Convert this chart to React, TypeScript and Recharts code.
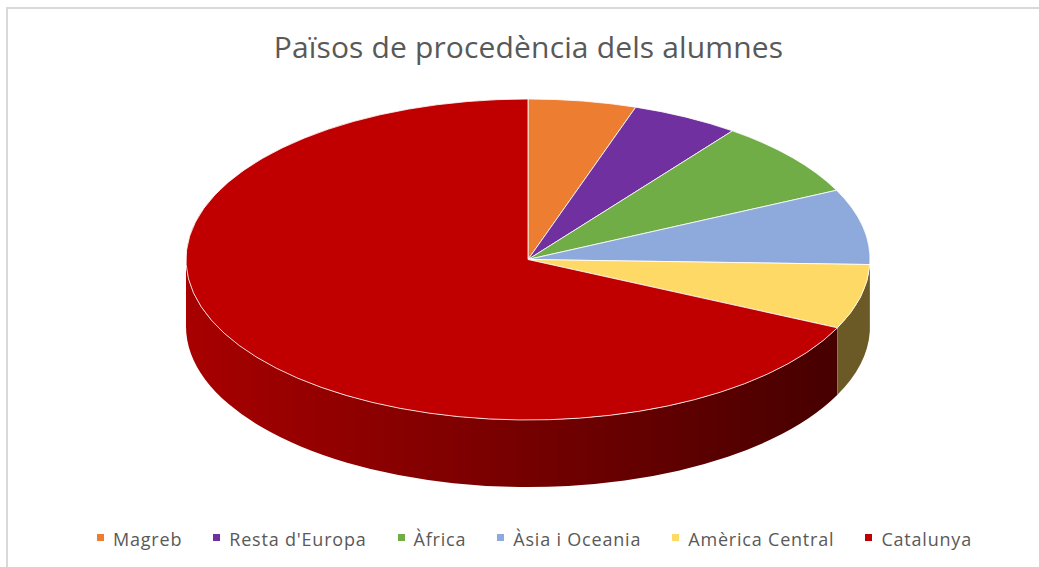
import React from 'react';
import { PieChart, Pie, Cell, Legend } from 'recharts';

const regions = ['Magreb', "Resta d'Europa", 'Àfrica', 'Àsia i Oceania', 'Amèrica Central', 'Catalunya'];
const shares = [5.1, 5.1, 7.7, 7.6, 6.5, 68.0];
const topColors = ['#ed7d31', '#7030a0', '#70ad47', '#8ea9db', '#ffd966', '#c00000'];
const wallColors = ['#8a4a1d', '#42205e', '#42662a', '#6b5a26', '#6b5a26', 'url(#wallRed)'];

const data = regions.map((name, i) => ({ name, value: shares[i] }));

const RX = 342;
const RY = 160.5;
const DEPTH = 67;

// Recharts only knows circles, so the sector angles get projected on an ellipse here
const px = (cx: number, a: number) => cx + RX * Math.cos((a * Math.PI) / 180);
const py = (cy: number, a: number) => cy - RY * Math.sin((a * Math.PI) / 180);

const TopSlice = (props: any) => {
  const { cx, cy, startAngle, endAngle, fill } = props;
  const large = Math.abs(startAngle - endAngle) > 180 ? 1 : 0;
  const d = `M${cx},${cy} L${px(cx, startAngle)},${py(cy, startAngle)} A${RX},${RY} 0 ${large} 1 ${px(cx, endAngle)},${py(cy, endAngle)} Z`;
  return <path d={d} fill={fill} stroke="#ffffff" strokeOpacity={0.8} strokeWidth={1} />;
};

const WallSlice = (props: any) => {
  const { cx, cy, startAngle, endAngle, fill } = props;
  // only the front half of the rim can be seen
  const a1 = Math.min(startAngle, 0);
  const a2 = Math.max(endAngle, -180);
  if (a1 <= a2) return null;
  const x1 = px(cx, a1);
  const y1 = py(cy, a1);
  const x2 = px(cx, a2);
  const y2 = py(cy, a2);
  const d = `M${x1},${y1} A${RX},${RY} 0 0 1 ${x2},${y2} L${x2},${y2 + DEPTH} A${RX},${RY} 0 0 0 ${x1},${y1 + DEPTH} Z`;
  return (
    <g>
      <path d={d} fill={fill} />
      {a2 > -180 && a1 - a2 > 5 && (
        <line x1={x2} y1={y2} x2={x2} y2={y2 + DEPTH} stroke="#ffffff" strokeOpacity={0.5} strokeWidth={1} />
      )}
    </g>
  );
};

const LegendRow = ({ payload }: any) => {
  // the wall series also lands in the payload, keep the top slices only
  const items = (payload || []).filter((item: any) => topColors.includes(item.color));
  return (
    <div style={{ display: 'flex', justifyContent: 'center', fontFamily: '"Open Sans", sans-serif', fontSize: 18, color: '#595959', whiteSpace: 'nowrap', letterSpacing: 0.8 }}>
      {items.map((item: any, i: number) => (
        <div key={item.value} style={{ display: 'flex', alignItems: 'center', marginLeft: i === 0 ? 0 : 31 }}>
          <span style={{ width: 7, height: 7, background: item.color, marginRight: 9, marginBottom: 4 }} />
          <span>{item.value}</span>
        </div>
      ))}
    </div>
  );
};

export default function App() {
  return (
    <div style={{ position: 'absolute', left: 0, top: 0, width: 1039, height: 567, overflow: 'hidden', background: '#fff' }}>
      <div style={{ position: 'absolute', left: 6, top: 7, width: 1100, height: 600, border: '2px solid #d9d9d9' }} />
      <div style={{ position: 'absolute', left: 0, top: 0 }}>
        <PieChart width={1039} height={567} margin={{ top: 0, right: 0, bottom: 0, left: 0 }}>
          <defs>
            <linearGradient id="wallRed" gradientUnits="userSpaceOnUse" x1="186" y1="0" x2="836" y2="0">
              <stop offset="0%" stopColor="#a80000" />
              <stop offset="100%" stopColor="#470000" />
            </linearGradient>
          </defs>
          <text x={528.5} y={58} textAnchor="middle" fontFamily='"Open Sans", sans-serif' fontSize={30} letterSpacing={0.15} fill="#595959">
            Països de procedència dels alumnes
          </text>
          <Pie
            data={data}
            dataKey="value"
            nameKey="name"
            cx={528}
            cy={259.5}
            outerRadius={RX}
            startAngle={90}
            endAngle={-270}
            legendType="none"
            shape={WallSlice}
            isAnimationActive={false}
          >
            {data.map((d, i) => (
              <Cell key={d.name} fill={wallColors[i]} />
            ))}
          </Pie>
          <Pie
            data={data}
            dataKey="value"
            nameKey="name"
            cx={528}
            cy={259.5}
            outerRadius={RX}
            startAngle={90}
            endAngle={-270}
            shape={TopSlice}
            isAnimationActive={false}
          >
            {data.map((d, i) => (
              <Cell key={d.name} fill={topColors[i]} />
            ))}
          </Pie>
          <Legend
            content={LegendRow}
            itemSorter={null}
            layout="horizontal"
            verticalAlign="bottom"
            align="center"
            wrapperStyle={{ left: 15, width: 1039, bottom: 16 }}
          />
        </PieChart>
      </div>
    </div>
  );
}
